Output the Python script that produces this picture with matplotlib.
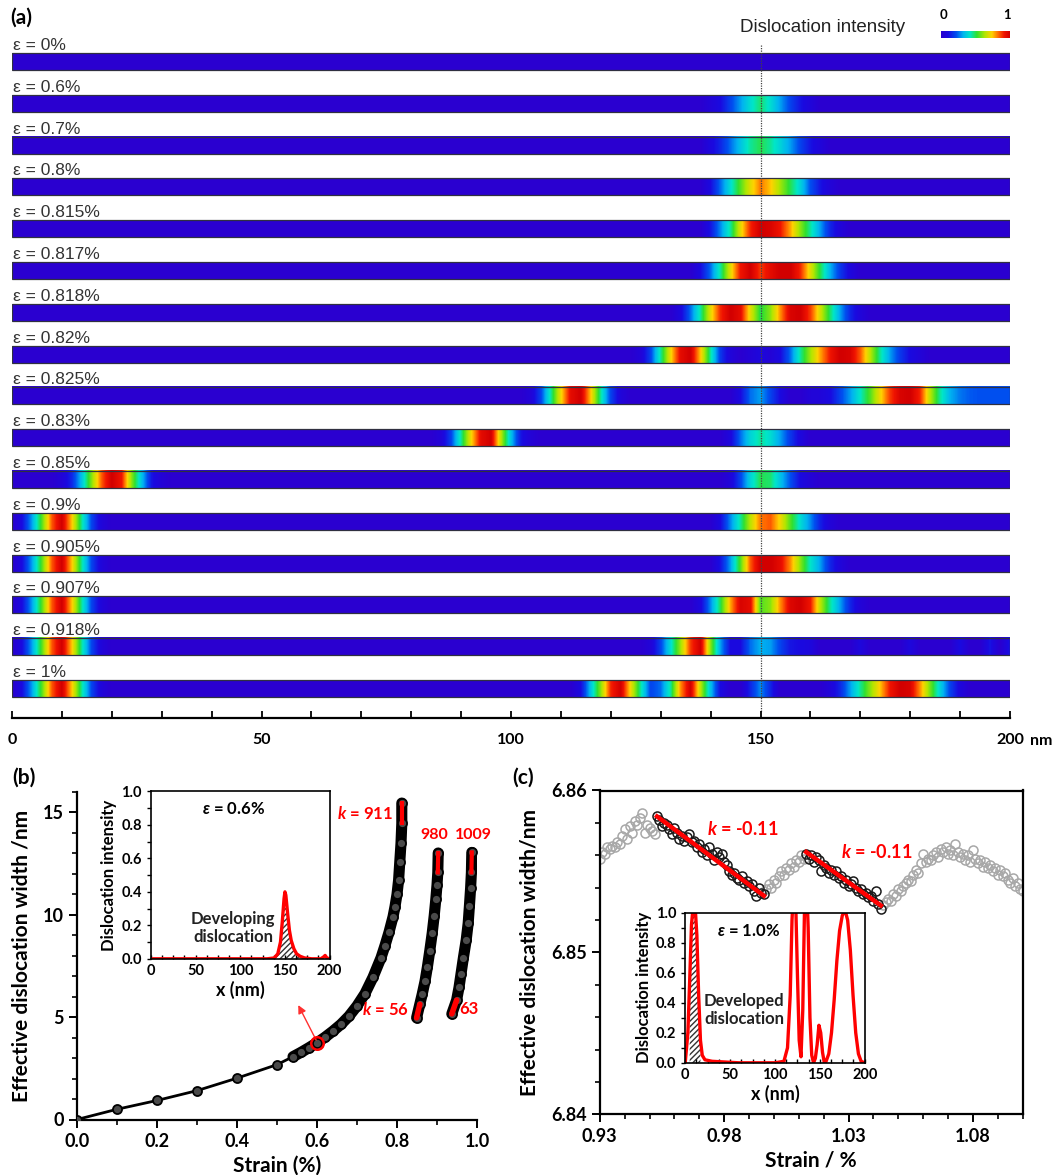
import numpy as np
import matplotlib
matplotlib.use('Agg')
import matplotlib.pyplot as plt
from matplotlib.colors import LinearSegmentedColormap
from matplotlib.patches import Rectangle
from matplotlib.ticker import MultipleLocator

plt.rcParams['font.family'] = ['Lato', 'DejaVu Sans']
plt.rcParams['font.weight'] = 'bold'
plt.rcParams['axes.labelweight'] = 'bold'
plt.rcParams['mathtext.fontset'] = 'custom'
plt.rcParams['mathtext.it'] = 'Lato:italic:bold'
plt.rcParams['mathtext.rm'] = 'Lato:bold'

# ---------------- (a) dislocation intensity along the bar, (nm, intensity)
strain_labels = ['0%', '0.6%', '0.7%', '0.8%', '0.815%', '0.817%', '0.818%', '0.82%',
                 '0.825%', '0.83%', '0.85%', '0.9%', '0.905%', '0.907%', '0.918%', '1%']

prof_000 = []
prof_060 = [(140, .05), (142, .1), (144, .2), (146, .3), (148, .4), (150, .48), (152, .4),
            (154, .3), (156, .2), (158, .12), (160, .06)]
prof_070 = [(140, .08), (142, .15), (144, .25), (146, .35), (148, .45), (150, .5), (152, .45),
            (154, .38), (156, .3), (158, .2), (160, .12), (162, .06)]
prof_080 = [(140, .1), (142, .25), (144, .4), (146, .55), (148, .7), (150, .82), (152, .75),
            (154, .62), (156, .5), (158, .38), (160, .22), (162, .12), (164, .05)]
prof_0815 = [(140, .12), (142, .28), (144, .45), (146, .7), (148, .9), (150, 1.0), (152, .98),
             (154, .92), (156, .78), (158, .6), (160, .45), (162, .3), (164, .15), (166, .06)]
prof_0817 = [(138, .1), (140, .25), (142, .45), (144, .7), (146, .92), (148, 1.0), (150, .88),
             (152, .95), (154, 1.0), (156, 1.0), (158, .9), (160, .7), (162, .5), (164, .32),
             (166, .18), (168, .08)]
prof_0818 = [(134, .08), (136, .25), (138, .45), (140, .7), (142, .9), (144, 1.0), (146, .95),
             (148, .7), (150, .5), (152, .6), (154, .8), (156, .98), (158, 1.0), (160, .88),
             (162, .68), (164, .48), (166, .3), (168, .15), (170, .06)]
prof_082 = [(126, .05), (128, .2), (130, .45), (132, .72), (134, .95), (136, 1.0), (138, .75),
            (140, .45), (142, .18), (144, .06), (148, .04), (150, .08), (152, .04), (154, .1),
            (156, .25), (158, .45), (160, .62), (162, .78), (164, .92), (166, 1.0), (168, .98),
            (170, .85), (172, .65), (174, .45), (176, .3), (178, .18), (180, .1), (182, .05)]
prof_0825 = [(104, .05), (106, .2), (108, .45), (110, .72), (112, .95), (114, 1.0), (116, .75),
             (118, .45), (120, .2), (122, .06), (146, .1), (148, .25), (150, .3), (152, .2),
             (154, .1), (160, .05), (162, .06), (164, .1), (166, .2), (168, .3), (170, .42),
             (172, .55), (174, .72), (176, .88), (178, .98), (180, 1.0), (182, .9), (184, .65),
             (186, .45), (188, .32), (190, .26), (192, .23), (194, .22), (196, .22), (198, .22),
             (200, .22)]
prof_083 = [(86, .05), (88, .2), (90, .45), (92, .72), (94, .95), (96, 1.0), (98, .65), (100, .35),
            (102, .12), (104, .04), (144, .08), (146, .25), (148, .38), (150, .45), (152, .4),
            (154, .3), (156, .18), (158, .08)]
prof_085 = [(10, .05), (12, .15), (14, .35), (16, .6), (18, .85), (20, 1.0), (22, .92), (24, .6),
            (26, .35), (28, .12), (30, .04), (144, .06), (146, .2), (148, .38), (150, .5),
            (152, .48), (154, .35), (156, .22), (158, .1), (160, .04)]
prof_090 = [(2, .1), (4, .3), (6, .55), (8, .85), (10, 1.0), (12, .75), (14, .45), (16, .2),
            (18, .06), (142, .1), (144, .28), (146, .45), (148, .65), (150, .82), (152, .85),
            (154, .72), (156, .55), (158, .4), (160, .28), (162, .14), (164, .05)]
prof_0905 = [(2, .1), (4, .3), (6, .55), (8, .85), (10, 1.0), (12, .75), (14, .45), (16, .2),
             (18, .06), (142, .12), (144, .3), (146, .55), (148, .85), (150, 1.0), (152, 1.0),
             (154, .95), (156, .8), (158, .6), (160, .42), (162, .3), (164, .15), (166, .06)]
prof_0907 = [(2, .1), (4, .3), (6, .55), (8, .85), (10, 1.0), (12, .75), (14, .45), (16, .2),
             (18, .06), (138, .08), (140, .28), (142, .5), (144, .78), (146, .98), (148, .95),
             (150, .55), (152, .6), (154, .8), (156, .97), (158, 1.0), (160, .92), (162, .65),
             (164, .45), (166, .3), (168, .15), (170, .05)]
prof_0918 = [(2, .1), (4, .3), (6, .55), (8, .85), (10, 1.0), (12, .75), (14, .45), (16, .2),
             (18, .06), (128, .05), (130, .2), (132, .4), (134, .62), (136, .88), (138, 1.0),
             (140, .6), (142, .3), (144, .1), (146, .1), (148, .25), (150, .32), (152, .3),
             (154, .2), (156, .12), (158, .1), (160, .08), (170, .08), (180, .08), (190, .1),
             (196, .12), (200, .12)]
prof_100 = [(2, .1), (4, .3), (6, .55), (8, .85), (10, 1.0), (12, .75), (14, .45), (16, .2),
            (18, .06), (114, .1), (116, .35), (118, .6), (120, .9), (122, 1.0), (124, .72),
            (126, .45), (128, .2), (130, .25), (132, .45), (134, .8), (136, 1.0), (138, .65),
            (140, .35), (142, .1), (148, .15), (150, .28), (152, .15), (164, .06), (166, .15),
            (168, .3), (170, .45), (172, .6), (174, .75), (176, .92), (178, 1.0), (180, .98),
            (182, .8), (184, .58), (186, .38), (188, .2), (190, .08)]

profiles = [prof_000, prof_060, prof_070, prof_080, prof_0815, prof_0817, prof_0818, prof_082,
            prof_0825, prof_083, prof_085, prof_090, prof_0905, prof_0907, prof_0918, prof_100]

# ---------------- (b) effective width vs strain (three branches)
b1_x = [0.0, 0.1, 0.2, 0.3, 0.4, 0.5, 0.54, 0.56, 0.58, 0.60, 0.62, 0.64, 0.66, 0.68, 0.70, 0.72,
        0.74, 0.76, 0.77, 0.78, 0.79, 0.795, 0.80, 0.804, 0.807, 0.810, 0.812, 0.812]
b1_y = [0.0, 0.5, 0.93, 1.41, 2.02, 2.68, 3.07, 3.28, 3.51, 3.75, 4.02, 4.32, 4.65, 5.05, 5.55,
        6.15, 6.95, 7.9, 8.5, 9.15, 9.9, 10.4, 11.0, 11.7, 12.6, 13.5, 14.47, 15.46]
b2_x = [0.849, 0.857, 0.863, 0.870, 0.876, 0.882, 0.888, 0.893, 0.897, 0.900, 0.902, 0.903]
b2_y = [4.97, 5.63, 6.12, 6.75, 7.45, 8.25, 9.10, 9.95, 10.75, 11.45, 12.07, 13.02]
b3_x = [0.937, 0.949, 0.955, 0.960, 0.966, 0.973, 0.978, 0.981, 0.984, 0.986, 0.987]
b3_y = [5.16, 5.83, 6.45, 7.11, 7.9, 8.77, 9.6, 10.42, 11.3, 12.07, 13.05]
b_mark = (0.601, 3.76)

# inset of (b): profile at 0.6 %
ib_x = [0, 50, 100, 130, 138, 142, 145, 147, 149, 150, 151, 153, 155, 157, 160, 163, 167, 172,
        180, 190, 193, 195, 197, 200]
ib_y = [0.0, 0.0, 0.0, 0.0, 0.005, 0.03, 0.1, 0.22, 0.36, 0.40, 0.38, 0.27, 0.17, 0.11, 0.06,
        0.03, 0.015, 0.005, 0.0, 0.0, 0.01, 0.02, 0.005, 0.0]

# ---------------- (c) zoom of the width around 1 %
c_gray1_x = [0.930, 0.931, 0.932, 0.933, 0.934, 0.935, 0.936, 0.937, 0.938, 0.939, 0.940, 0.941,
             0.942, 0.943, 0.944, 0.945, 0.946, 0.947, 0.948, 0.949, 0.950, 0.951, 0.952]
c_gray1_y = [6.8558, 6.8562, 6.8561, 6.8565, 6.8564, 6.8566, 6.8565, 6.8568, 6.8567, 6.8572,
             6.8576, 6.8570, 6.8578, 6.8574, 6.8581, 6.8579, 6.8583, 6.8586, 6.8574, 6.8579,
             6.8577, 6.8575, 6.8573]
c_blk1_x = [0.953, 0.954, 0.955, 0.956, 0.957, 0.958, 0.959, 0.960, 0.961, 0.962, 0.963, 0.964,
            0.965, 0.966, 0.967, 0.968, 0.969, 0.970, 0.971, 0.972, 0.973, 0.974, 0.975, 0.976,
            0.977, 0.978, 0.979, 0.980, 0.981, 0.982, 0.983, 0.984, 0.985, 0.986, 0.987, 0.988,
            0.989, 0.990, 0.991, 0.992, 0.993, 0.994, 0.995, 0.996]
c_blk1_y = [6.8584, 6.8582, 6.8578, 6.8580, 6.8579, 6.8576, 6.8573, 6.8577, 6.8574, 6.8570,
            6.8572, 6.8569, 6.8571, 6.8573, 6.8568, 6.8569, 6.8565, 6.8567, 6.8562, 6.8564,
            6.8560, 6.8565, 6.8561, 6.8557, 6.8562, 6.8559, 6.8561, 6.8556, 6.8554, 6.8550,
            6.8548, 6.8549, 6.8546, 6.8545, 6.8547, 6.8543, 6.8544, 6.8541, 6.8542, 6.8538,
            6.8535, 6.8540, 6.8537, 6.8536]
c_gray2_x = [0.997, 0.998, 0.999, 1.000, 1.001, 1.002, 1.003, 1.004, 1.005, 1.006, 1.007, 1.008,
             1.009, 1.010, 1.011, 1.012]
c_gray2_y = [6.8539, 6.8542, 6.8540, 6.8545, 6.8543, 6.8547, 6.8550, 6.8548, 6.8552, 6.8551,
             6.8555, 6.8553, 6.8557, 6.8556, 6.8560, 6.8558]
c_blk2_x = [1.013, 1.014, 1.015, 1.016, 1.017, 1.018, 1.019, 1.020, 1.021, 1.022, 1.023, 1.024,
            1.025, 1.026, 1.027, 1.028, 1.029, 1.030, 1.031, 1.032, 1.033, 1.034, 1.035, 1.036,
            1.037, 1.038, 1.039, 1.040, 1.041, 1.042, 1.043]
c_blk2_y = [6.8561, 6.8558, 6.8560, 6.8556, 6.8559, 6.8557, 6.8550, 6.8554, 6.8552, 6.8549,
            6.8551, 6.8548, 6.8550, 6.8546, 6.8547, 6.8543, 6.8545, 6.8541, 6.8542, 6.8544,
            6.8540, 6.8538, 6.8539, 6.8536, 6.8537, 6.8534, 6.8535, 6.8532, 6.8538, 6.8530,
            6.8527]
c_gray3_x = [1.044, 1.045, 1.046, 1.047, 1.048, 1.049, 1.050, 1.051, 1.052, 1.053, 1.054, 1.055,
             1.056, 1.057, 1.058, 1.059, 1.060, 1.061, 1.062, 1.063, 1.064, 1.065, 1.066, 1.067,
             1.068, 1.069, 1.070, 1.071, 1.072, 1.073, 1.074, 1.075, 1.076, 1.077, 1.078, 1.079,
             1.080, 1.081, 1.082, 1.083, 1.084, 1.085, 1.086, 1.087, 1.088, 1.089, 1.090, 1.091,
             1.092, 1.093, 1.094, 1.095, 1.096, 1.097, 1.098, 1.099, 1.100]
c_gray3_y = [6.8529, 6.8531, 6.8533, 6.8532, 6.8536, 6.8535, 6.8539, 6.8538, 6.8541, 6.8543,
             6.8545, 6.8544, 6.8548, 6.8551, 6.8549, 6.8555, 6.8561, 6.8556, 6.8558, 6.8557,
             6.8560, 6.8562, 6.8559, 6.8564, 6.8562, 6.8565, 6.8561, 6.8563, 6.8560, 6.8567,
             6.8562, 6.8559, 6.8561, 6.8557, 6.8560, 6.8556, 6.8563, 6.8558, 6.8555, 6.8557,
             6.8553, 6.8556, 6.8552, 6.8554, 6.8550, 6.8552, 6.8548, 6.8551, 6.8547, 6.8549,
             6.8545, 6.8543, 6.8546, 6.8541, 6.8543, 6.8539, 6.8538]
fit1_x, fit1_y = [0.953, 0.996], [6.8584, 6.8535]
fit2_x, fit2_y = [1.013, 1.043], [6.8562, 6.8529]

# inset of (c): profile at 1.0 %
ic_x = [0, 3, 5, 7, 9, 10, 11, 13, 15, 17, 19, 22, 30, 60, 100, 110, 114, 117, 119, 121, 123, 125,
        127, 129, 131, 133, 135, 137, 139, 141, 143, 145, 147, 149, 151, 153, 155, 157, 160, 163,
        166, 169, 172, 175, 178, 181, 184, 187, 190, 193, 196, 200]
ic_y = [0.0, 0.2, 0.55, 0.92, 1.05, 1.08, 1.05, 0.85, 0.45, 0.15, 0.05, 0.02, 0.01, 0.0, 0.0,
        0.01, 0.1, 0.45, 0.95, 1.2, 1.1, 0.6, 0.15, 0.04, 0.35, 1.05, 1.25, 0.9, 0.3, 0.05, 0.0,
        0.03, 0.12, 0.25, 0.2, 0.07, 0.0, 0.01, 0.06, 0.2, 0.42, 0.68, 0.88, 0.98, 1.02, 0.95,
        0.75, 0.45, 0.2, 0.06, 0.01, 0.0]

W, H = 1059, 1175
fig = plt.figure(figsize=(W / 100, H / 100), dpi=100)


def fbox(x0, y0, x1, y1):
    # pixel box (top-left origin) -> figure fraction rect
    return [x0 / W, 1 - y1 / H, (x1 - x0) / W, (y1 - y0) / H]


cmap = LinearSegmentedColormap.from_list('disl', [
    (0.0, '#2a00d0'), (0.1, '#1a0ae0'), (0.22, '#0050f0'), (0.32, '#00b4f0'),
    (0.42, '#00e6c8'), (0.52, '#30e030'), (0.64, '#b4e600'), (0.74, '#ffd200'),
    (0.84, '#ff6400'), (0.92, '#f01400'), (1.0, '#d20000')])

# ---------------- panel (a)
sp, sh = 41.8, 17.0
ax_a = fig.add_axes(fbox(12, 30, 1010, 712))
grid = np.arange(0, 201, 2)
for i, prof in enumerate(profiles):
    img = np.zeros((1, len(grid)))
    for p, v in prof:
        img[0, int(round(p / 2))] = v
    ax_a.imshow(img, extent=(-1, 201, i + sh / sp, i), aspect='auto', cmap=cmap,
                vmin=0, vmax=1, interpolation='bilinear', interpolation_stage='data')
    ax_a.add_patch(Rectangle((0, i), 200, sh / sp, fill=False, ec='#303040', lw=0.9))
    ax_a.text(0.2, i - 0.07, 'ε = ' + strain_labels[i], family=['Liberation Sans', 'DejaVu Sans'],
              weight='normal', fontsize=12.5, color='#333333', va='baseline', ha='left')
ax_a.plot([150, 150], [-0.19, (712 - 53) / sp], color='#444444', lw=0.9, ls=(0, (1, 1)))
ax_a.set_xlim(0, 200)
ax_a.set_ylim((712 - 53) / sp, (30 - 53) / sp)
ax_a.axis('off')

# scale bar under the strips
ax_s = fig.add_axes(fbox(12, 708, 1010, 718))
ax_s.set_xlim(0, 200)
ax_s.set_yticks([])
for s in ['left', 'right', 'top']:
    ax_s.spines[s].set_visible(False)
ax_s.spines['bottom'].set_linewidth(1.6)
ax_s.patch.set_alpha(0)
ax_s.xaxis.set_major_locator(MultipleLocator(50))
ax_s.xaxis.set_minor_locator(MultipleLocator(10))
ax_s.tick_params(axis='x', which='both', direction='in', length=5, width=1.3, labelsize=11.5, pad=11)
fig.text(1030 / W, 1 - 741 / H, 'nm', fontsize=11.5, va='center', ha='left')

# colour bar, top right
fig.text(740 / W, 1 - 28 / H, 'Dislocation intensity', family=['Liberation Sans', 'DejaVu Sans'],
         weight='normal', fontsize=13.5, color='#222222', va='center', ha='left')
ax_cb = fig.add_axes(fbox(941, 31, 1010, 38))
ax_cb.imshow(np.linspace(0, 1, 200)[None, :], aspect='auto', cmap=cmap, extent=(0, 1, 0, 1))
ax_cb.axis('off')
fig.text(944 / W, 1 - 15 / H, '0', fontsize=9.5, ha='center', va='center')
fig.text(1007 / W, 1 - 15 / H, '1', fontsize=9.5, ha='center', va='center')

for lab, x, y in [('(a)', 10, 18), ('(b)', 12, 778), ('(c)', 512, 778)]:
    fig.text(x / W, 1 - y / H, lab, fontsize=15, ha='left', va='center')

# ---------------- panel (b)
ax_b = fig.add_axes(fbox(77, 792, 477, 1119.5))
ax_b.plot(b1_x, b1_y, color='black', lw=2, zorder=2)
ax_b.plot(b1_x[6:], b1_y[6:], color='black', lw=8, solid_capstyle='round', zorder=2)
ax_b.plot(b2_x, b2_y, color='black', lw=8, solid_capstyle='round', zorder=2)
ax_b.plot(b3_x, b3_y, color='black', lw=8, solid_capstyle='round', zorder=2)
for bx, by in [(b1_x, b1_y), (b2_x, b2_y), (b3_x, b3_y)]:
    ax_b.plot(bx, by, 'o', ms=6.5, mfc='#4a4a4a', mec='black', mew=1.3, zorder=3)
ax_b.plot(b1_x[-2:], b1_y[-2:], color='red', lw=3, zorder=4)
ax_b.plot(b2_x[-2:], b2_y[-2:], color='red', lw=3, zorder=4)
ax_b.plot(b3_x[-2:], b3_y[-2:], color='red', lw=3, zorder=4)
ax_b.plot(b2_x[:2], b2_y[:2], color='red', lw=4, solid_capstyle='round', zorder=4)
ax_b.plot(b3_x[:2], b3_y[:2], color='red', lw=4, solid_capstyle='round', zorder=4)
ax_b.plot(*b_mark, 'o', ms=9, mfc='none', mec='red', mew=1.8, zorder=5)
ax_b.annotate('', xy=(0.550, 5.71), xytext=b_mark,
              arrowprops=dict(arrowstyle='-|>', color='#ff3030', lw=1, mutation_scale=12))
ax_b.text(0.79, 14.97, '$k$ = 911', color='red', fontsize=12, ha='right', va='center')
ax_b.text(0.894, 13.9, '980', color='red', fontsize=11.5, ha='center', va='center')
ax_b.text(0.992, 13.9, '1009', color='red', fontsize=11.5, ha='center', va='center')
ax_b.text(0.829, 5.38, '$k$ = 56', color='red', fontsize=12, ha='right', va='center')
ax_b.text(0.955, 5.38, '63', color='red', fontsize=12, ha='left', va='center')
ax_b.set_xlim(0, 1)
ax_b.set_ylim(0, 16)
for s in ['right', 'top']:
    ax_b.spines[s].set_visible(False)
for s in ['left', 'bottom']:
    ax_b.spines[s].set_linewidth(1.6)
ax_b.xaxis.set_major_locator(MultipleLocator(0.2))
ax_b.xaxis.set_minor_locator(MultipleLocator(0.1))
ax_b.yaxis.set_major_locator(MultipleLocator(5))
ax_b.yaxis.set_minor_locator(MultipleLocator(1))
ax_b.xaxis.set_major_formatter(lambda v, p: '%.1f' % v)
ax_b.tick_params(which='major', length=6, width=1.4, labelsize=13)
ax_b.tick_params(which='minor', length=3.5, width=1.2)
ax_b.set_xlabel('Strain (%)', fontsize=15, labelpad=4)
ax_b.set_ylabel('Effective dislocation width /nm', fontsize=15, labelpad=8)

# inset (b)
ax_bi = fig.add_axes(fbox(151, 791.4, 329.6, 958.8))
ax_bi.fill_between(ib_x[4:17], ib_y[4:17], 0, facecolor='white', edgecolor='#333333',
                   hatch='//////', lw=0)
ax_bi.plot(ib_x, ib_y, color='red', lw=2.4)
ax_bi.set_xlim(0, 200)
ax_bi.set_ylim(0, 1)
ax_bi.xaxis.set_major_locator(MultipleLocator(50))
ax_bi.xaxis.set_minor_locator(MultipleLocator(12.5))
ax_bi.yaxis.set_major_locator(MultipleLocator(0.2))
ax_bi.yaxis.set_minor_locator(MultipleLocator(0.1))
ax_bi.yaxis.set_major_formatter(lambda v, p: '%.1f' % v)
ax_bi.tick_params(axis='x', which='both', direction='in', length=3, width=1, labelsize=10.5)
ax_bi.tick_params(axis='y', which='both', direction='out', length=3, width=1, labelsize=10.5)
for s in ax_bi.spines.values():
    s.set_linewidth(1.2)
ax_bi.set_xlabel('x (nm)', fontsize=13, labelpad=2)
ax_bi.set_ylabel('Dislocation intensity', fontsize=12, labelpad=3)
ax_bi.text(92, 0.895, r'$\varepsilon$ = 0.6%', fontsize=12, ha='center', va='center')
ax_bi.text(92, 0.185, 'Developing\ndislocation', fontsize=12, ha='center', va='center',
           linespacing=1.15, color='#222222')

# ---------------- panel (c)
ax_c = fig.add_axes(fbox(599.8, 790.5, 1022.6, 1114.4))
for gx, gy in [(c_gray1_x, c_gray1_y), (c_gray2_x, c_gray2_y), (c_gray3_x, c_gray3_y)]:
    ax_c.plot(gx, gy, 'o', ms=6.5, mfc='none', mec='#a8a8a8', mew=1.1)
for kx, ky in [(c_blk1_x, c_blk1_y), (c_blk2_x, c_blk2_y)]:
    ax_c.plot(kx, ky, 'o', ms=6.5, mfc='none', mec='#1a1a1a', mew=1.1)
ax_c.plot(fit1_x, fit1_y, color='red', lw=3.2)
ax_c.plot(fit2_x, fit2_y, color='red', lw=3.2)
ax_c.text(0.9732, 6.8576, '$k$ = -0.11', color='red', fontsize=13, ha='left', va='center')
ax_c.text(1.0269, 6.8562, '$k$ = -0.11', color='red', fontsize=13, ha='left', va='center')
ax_c.set_xlim(0.93, 1.10)
ax_c.set_ylim(6.84, 6.86)
ax_c.set_xticks([0.93, 0.98, 1.03, 1.08])
ax_c.xaxis.set_minor_locator(MultipleLocator(0.01))
ax_c.yaxis.set_major_locator(MultipleLocator(0.01))
ax_c.yaxis.set_minor_locator(MultipleLocator(0.002))
ax_c.yaxis.set_major_formatter(lambda v, p: '%.2f' % v)
ax_c.tick_params(which='major', length=6, width=1.4, labelsize=13)
ax_c.tick_params(which='minor', length=3.5, width=1.2)
for s in ax_c.spines.values():
    s.set_linewidth(1.6)
ax_c.set_xlabel('Strain / %', fontsize=15, labelpad=4)
ax_c.set_ylabel('Effective dislocation width/nm', fontsize=15, labelpad=8)

# inset (c)
ax_ci = fig.add_axes(fbox(685.2, 912.7, 864.7, 1062.8))
ax_ci.fill_between(ic_x[2:10], ic_y[2:10], 0, facecolor='white', edgecolor='#333333',
                   hatch='//////', lw=0)
ax_ci.plot(ic_x, ic_y, color='red', lw=2.4)
ax_ci.set_xlim(0, 200)
ax_ci.set_ylim(0, 1)
ax_ci.xaxis.set_major_locator(MultipleLocator(50))
ax_ci.xaxis.set_minor_locator(MultipleLocator(12.5))
ax_ci.yaxis.set_major_locator(MultipleLocator(0.2))
ax_ci.yaxis.set_minor_locator(MultipleLocator(0.1))
ax_ci.yaxis.set_major_formatter(lambda v, p: '%.1f' % v)
ax_ci.tick_params(axis='x', which='both', direction='in', length=3, width=1, labelsize=10.5)
ax_ci.tick_params(axis='y', which='both', direction='out', length=3, width=1, labelsize=10.5)
for s in ax_ci.spines.values():
    s.set_linewidth(1.2)
ax_ci.set_xlabel('x (nm)', fontsize=13, labelpad=2)
ax_ci.set_ylabel('Dislocation intensity', fontsize=12, labelpad=3)
ax_ci.text(70.6, 0.88, r'$\varepsilon$ = 1.0%', fontsize=12, ha='center', va='center')
ax_ci.text(66, 0.353, 'Developed\ndislocation', fontsize=12, ha='center', va='center',
           linespacing=1.15, color='#222222')

fig.savefig('out.png', dpi=100)
